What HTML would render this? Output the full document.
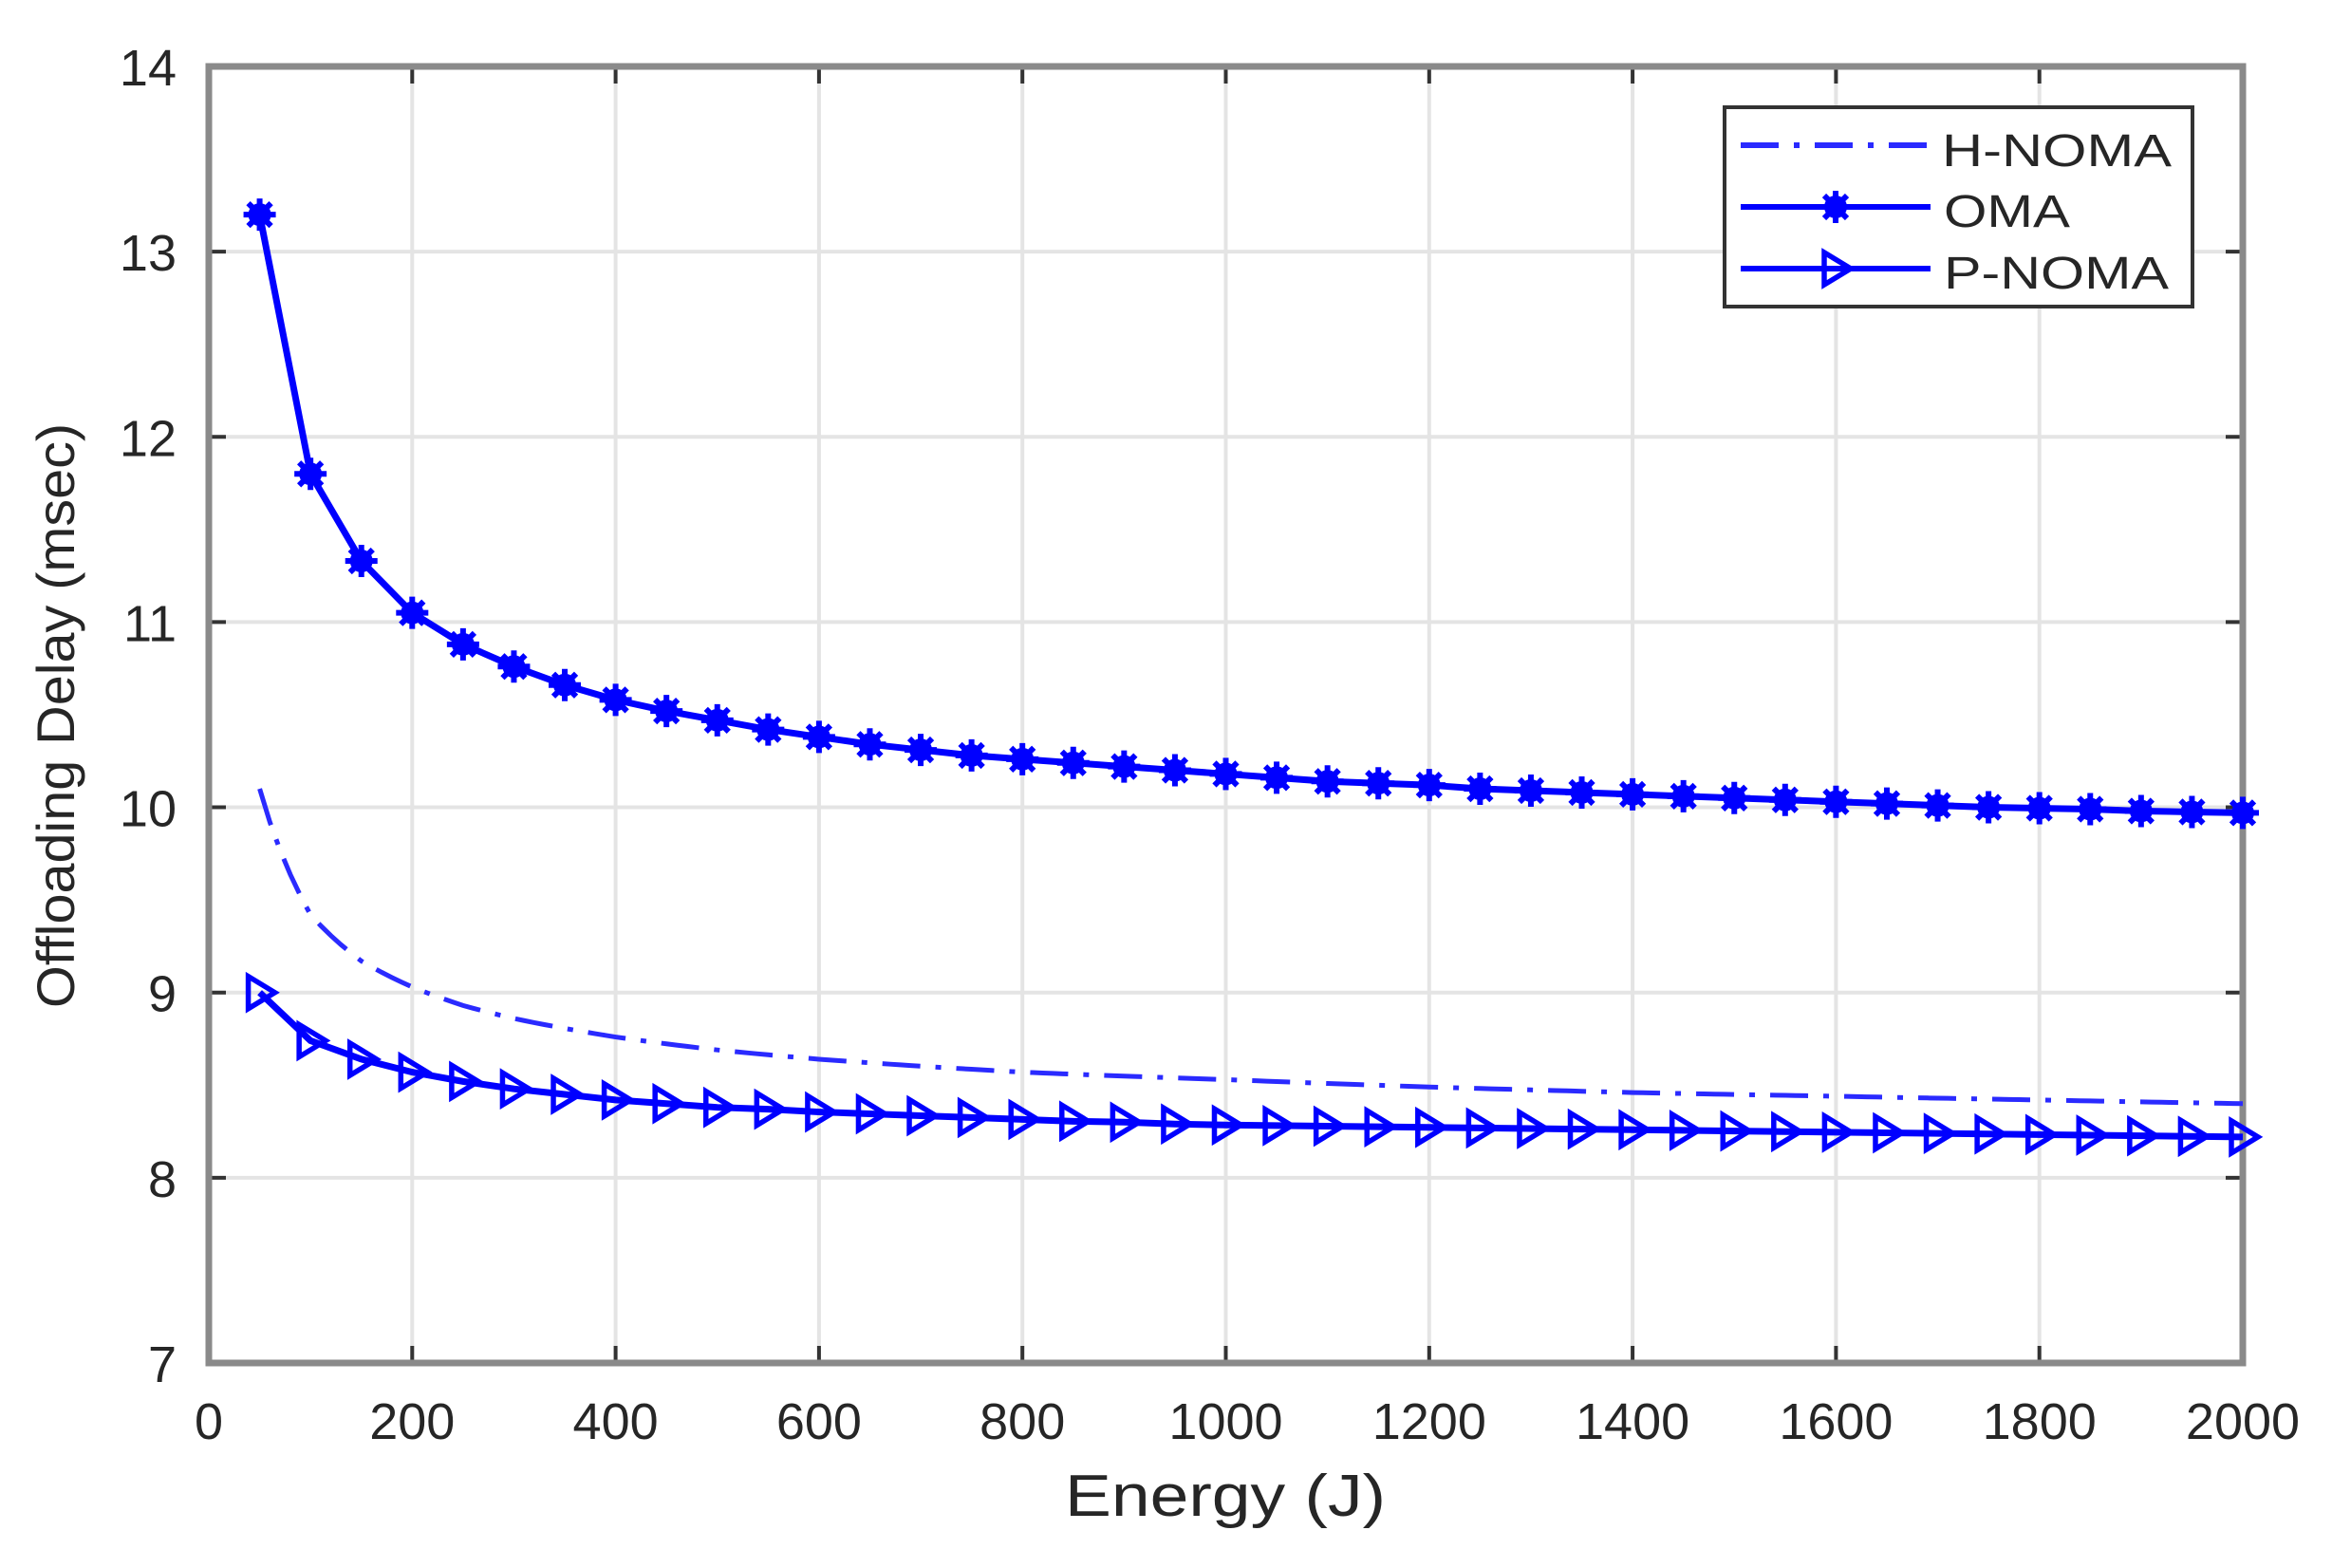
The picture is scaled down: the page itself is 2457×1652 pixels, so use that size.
<!DOCTYPE html>
<html><head><meta charset="utf-8">
<style>
html,body{margin:0;padding:0;background:#fff;}
svg{display:block;}
text{font-family:"Liberation Sans",Arial,sans-serif;fill:#262626;}
</style></head>
<body>
<svg id="s" width="2457" height="1652" viewBox="0 0 2457 1652" xmlns="http://www.w3.org/2000/svg">
<rect width="2457" height="1652" fill="#fff"/>
<g id="grid" stroke="#e4e4e4" stroke-width="4"></g>
<g id="ticks" stroke="#333" stroke-width="4"></g>
<rect x="220" y="70" width="2143" height="1366" fill="none" stroke="#8a8a8a" stroke-width="7"/>
<g id="labels" font-size="54"></g>
<text x="1122" y="1597" font-size="62" textLength="338" lengthAdjust="spacingAndGlyphs">Energy (J)</text>
<text transform="translate(78,754) rotate(-90)" font-size="56" x="-308" y="0" textLength="616" lengthAdjust="spacingAndGlyphs">Offloading Delay (msec)</text>
<g id="series"></g>
<g>
<rect x="1817" y="113" width="493" height="210" fill="#fff" stroke="#333" stroke-width="4"/>
<line x1="1834" y1="153" x2="2034" y2="153" stroke="#2a2aff" stroke-width="6" stroke-dasharray="40,16,6,16"/>
<line x1="1834" y1="218" x2="2034" y2="218" stroke="#0000ff" stroke-width="6"/>
<line x1="1834" y1="283" x2="2034" y2="283" stroke="#0000ff" stroke-width="6"/>
<g id="legm"></g>
<text x="2046" y="175" font-size="48" textLength="242" lengthAdjust="spacingAndGlyphs">H-NOMA</text>
<text x="2048" y="239" font-size="48" textLength="133" lengthAdjust="spacingAndGlyphs">OMA</text>
<text x="2048" y="304" font-size="48" textLength="237" lengthAdjust="spacingAndGlyphs">P-NOMA</text>
</g>
</svg>
<script>
var NS="http://www.w3.org/2000/svg";
function X(x){return 220+1.0715*x;}
function Y(y){return 70+(14-y)*195.14;}
function el(p,t,a){var e=document.createElementNS(NS,t);for(var k in a)e.setAttribute(k,a[k]);p.appendChild(e);return e;}
var grid=document.getElementById('grid'),ticks=document.getElementById('ticks'),labels=document.getElementById('labels');
for(var x=0;x<=2000;x+=200){var px=X(x);
 if(x>0&&x<2000)el(grid,'line',{x1:px,y1:70,x2:px,y2:1436});
 el(ticks,'line',{x1:px,y1:1436,x2:px,y2:1418});el(ticks,'line',{x1:px,y1:70,x2:px,y2:88});
 var t=el(labels,'text',{x:px,y:1516,'text-anchor':'middle'});t.textContent=x;}
for(var y=7;y<=14;y++){var py=Y(y);
 if(y>7&&y<14)el(grid,'line',{x1:220,y1:py,x2:2363,y2:py});
 el(ticks,'line',{x1:220,y1:py,x2:238,y2:py});el(ticks,'line',{x1:2363,y1:py,x2:2345,y2:py});
 var t=el(labels,'text',{x:186,y:py+20,'text-anchor':'end'});t.textContent=y;}
function interp(anch,x){for(var i=0;i<anch.length-1;i++){var a=anch[i],b=anch[i+1];if(x>=a[0]&&x<=b[0]){var f=(Math.log(x)-Math.log(a[0]))/(Math.log(b[0])-Math.log(a[0]));return a[1]+f*(b[1]-a[1]);}}return anch[anch.length-1][1];}
var oma=[13.2,11.8,11.33,11.05,10.88,10.76,10.66,10.58,10.52,10.47,10.42,10.38,10.34,10.31,10.28,10.26,10.24,10.22,10.20,10.18,10.16,10.14,10.13,10.12,10.10,10.09,10.08,10.07,10.06,10.05,10.04,10.03,10.02,10.01,10.00,9.995,9.99,9.98,9.975,9.97];
var pn=[9.0,8.74,8.64,8.57,8.52,8.48,8.45,8.42,8.40,8.38,8.37,8.355,8.345,8.335,8.325,8.315,8.305,8.30,8.29,8.285];
for(var i=20;i<40;i++){pn.push(8.285-(i-19)*0.00325);}
var hA=[[50,10.1],[100,9.42],[150,9.17],[200,9.03],[250,8.93],[300,8.86],[400,8.76],[500,8.69],[600,8.64],[800,8.57],[1000,8.53],[1200,8.49],[1400,8.46],[1600,8.44],[1800,8.42],[2000,8.40]];
var ser=document.getElementById('series');
var hp=[];for(var x=50;x<=2000;x+=10)hp.push(X(x)+','+Y(interp(hA,x)));
el(ser,'polyline',{points:hp.join(' '),fill:'none',stroke:'#2a2aff','stroke-width':5,'stroke-dasharray':'40,16,6,16'});
var op=[],pp=[];for(var i=0;i<40;i++){var x=50+50*i;op.push(X(x)+','+Y(oma[i]));pp.push(X(x)+','+Y(pn[i]));}
el(ser,'polyline',{points:op.join(' '),fill:'none',stroke:'#0000ff','stroke-width':7});
el(ser,'polyline',{points:pp.join(' '),fill:'none',stroke:'#0000ff','stroke-width':7});
function star(g,cx,cy){el(g,'circle',{cx:cx,cy:cy,r:12,fill:'#0000ff'});
 for(var k=0;k<4;k++){var a=k*Math.PI/4,dx=17*Math.cos(a),dy=17*Math.sin(a);el(g,'line',{x1:cx-dx,y1:cy-dy,x2:cx+dx,y2:cy+dy,stroke:'#0000ff','stroke-width':6});}}
function tri(g,cx,cy){el(g,'polygon',{points:(cx-12)+','+(cy-17)+' '+(cx+16)+','+cy+' '+(cx-12)+','+(cy+17),fill:'none',stroke:'#0000ff','stroke-width':5.5});}
for(var i=0;i<40;i++){var x=50+50*i;star(ser,X(x),Y(oma[i]));tri(ser,X(x),Y(pn[i]));}
var lm=document.getElementById('legm');star(lm,1934,218);tri(lm,1934,283);
</script>
</body></html>
